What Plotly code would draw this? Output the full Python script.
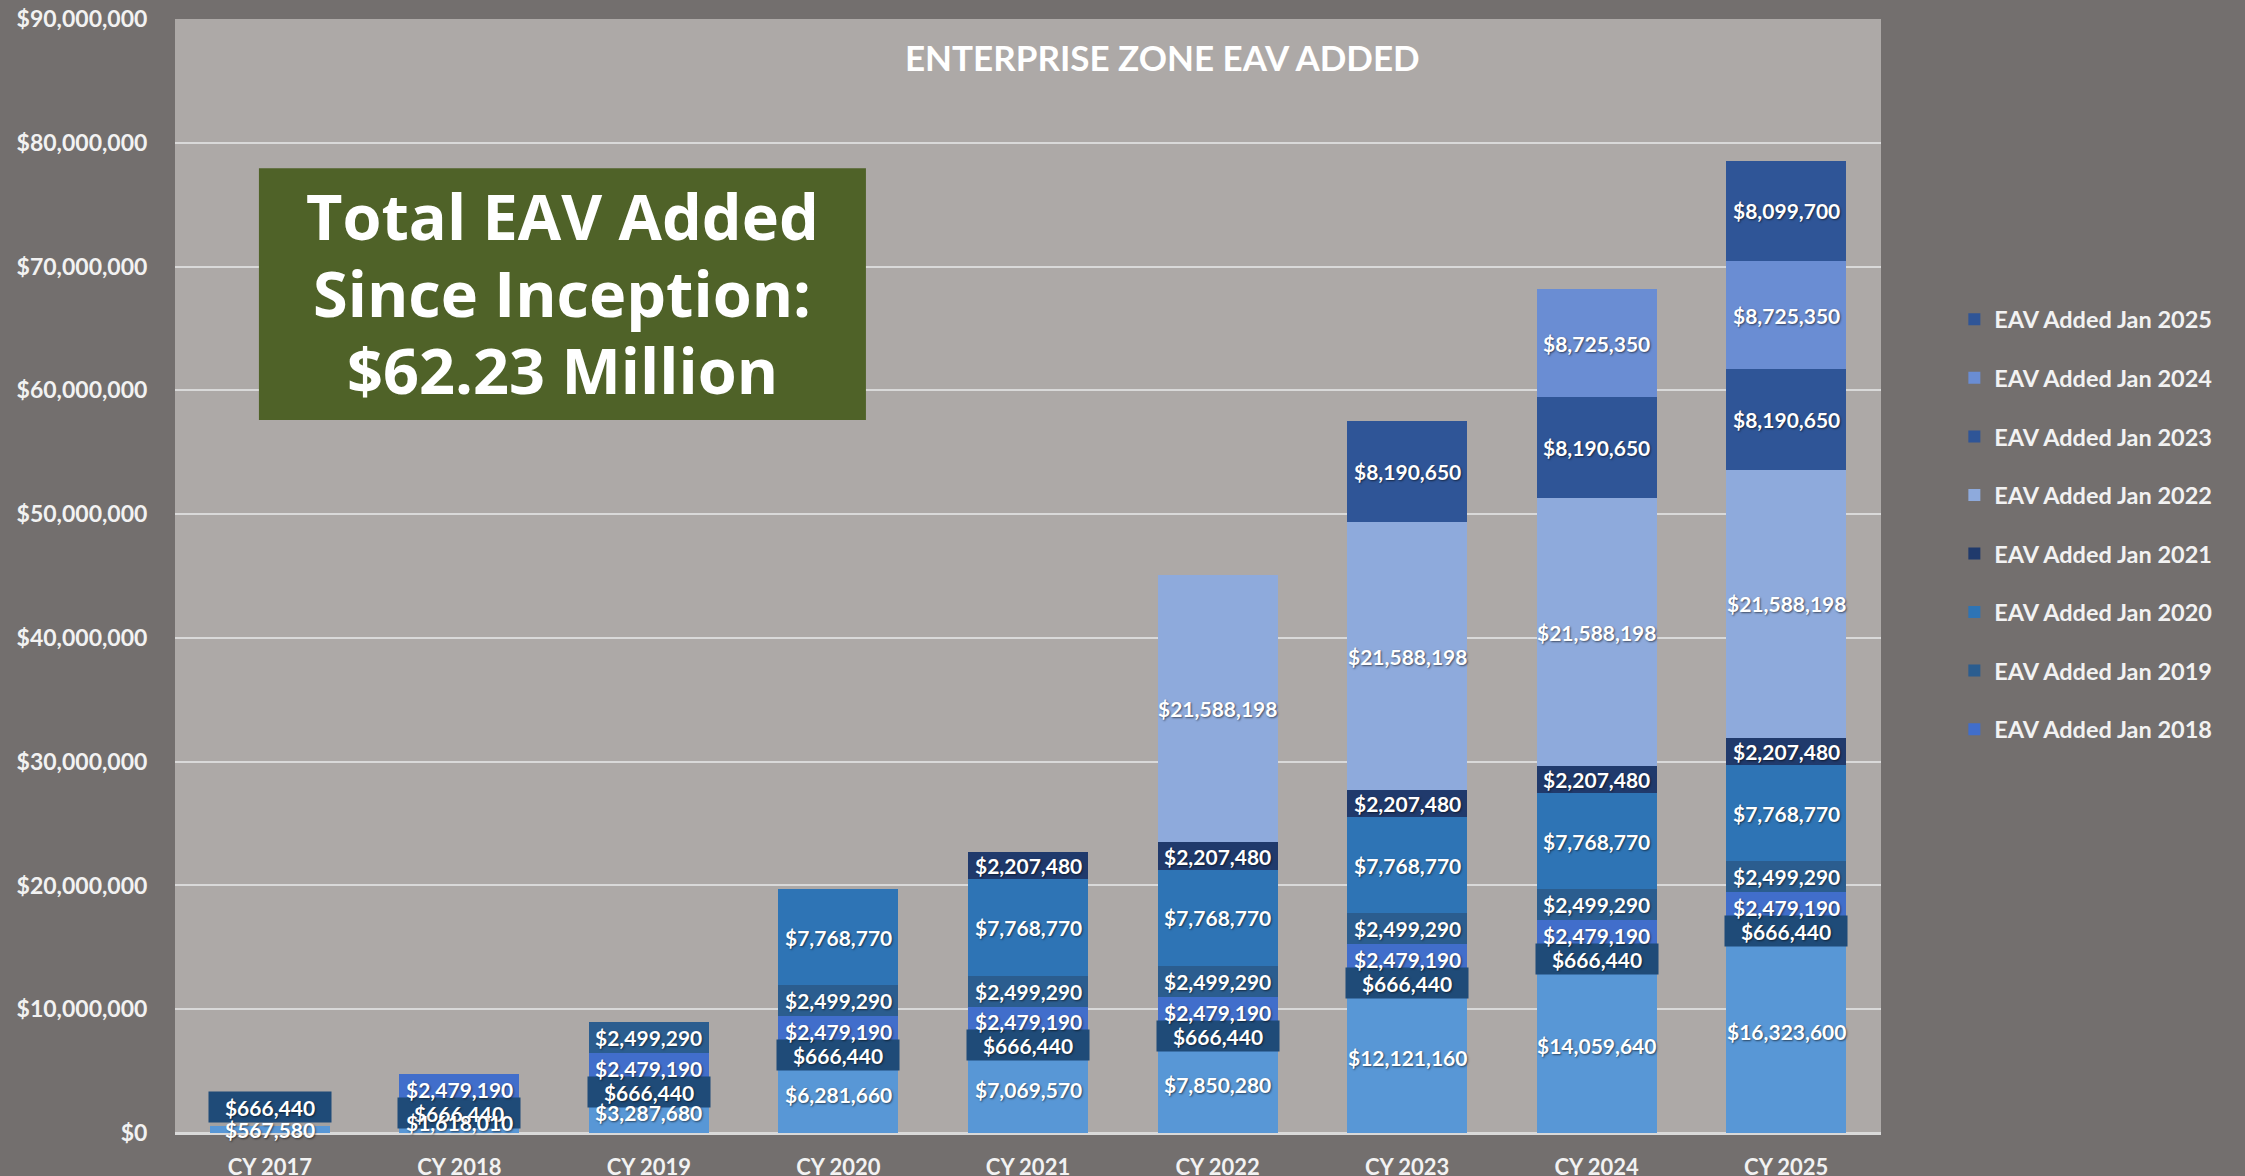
import plotly.graph_objects as go

# ---------------- data ----------------
years = ["CY 2017", "CY 2018", "CY 2019", "CY 2020", "CY 2021",
         "CY 2022", "CY 2023", "CY 2024", "CY 2025"]

base_eav = [567580, 1618010, 3287680, 6281660, 7069570, 7850280, 12121160, 14059640, 16323600]
eav_jan_2017 = [666440, 666440, 666440, 666440, 666440, 666440, 666440, 666440, 666440]
eav_jan_2018 = [None, 2479190, 2479190, 2479190, 2479190, 2479190, 2479190, 2479190, 2479190]
eav_jan_2019 = [None, None, 2499290, 2499290, 2499290, 2499290, 2499290, 2499290, 2499290]
eav_jan_2020 = [None, None, None, 7768770, 7768770, 7768770, 7768770, 7768770, 7768770]
eav_jan_2021 = [None, None, None, None, 2207480, 2207480, 2207480, 2207480, 2207480]
eav_jan_2022 = [None, None, None, None, None, 21588198, 21588198, 21588198, 21588198]
eav_jan_2023 = [None, None, None, None, None, None, 8190650, 8190650, 8190650]
eav_jan_2024 = [None, None, None, None, None, None, None, 8725350, 8725350]
eav_jan_2025 = [None, None, None, None, None, None, None, None, 8099700]

y_tick_values = [0, 10e6, 20e6, 30e6, 40e6, 50e6, 60e6, 70e6, 80e6, 90e6]
chart_title = "ENTERPRISE ZONE EAV ADDED"
callout_lines = ["Total EAV Added", "Since Inception:", "$62.23 Million"]

NAVY17 = "#1F4B78"
# series: (name, values, colour, in legend, boxed label)
series = [
    ("Base EAV", base_eav, "#5897D6", False, False),
    ("EAV Added Jan 2017", eav_jan_2017, ["#A3A1A0"] + [NAVY17] * 8, False, True),
    ("EAV Added Jan 2018", eav_jan_2018, "#416ECB", True, False),
    ("EAV Added Jan 2019", eav_jan_2019, "#2B5D8F", True, False),
    ("EAV Added Jan 2020", eav_jan_2020, "#2E74B5", True, False),
    ("EAV Added Jan 2021", eav_jan_2021, "#203A6C", True, False),
    ("EAV Added Jan 2022", eav_jan_2022, "#8EAADC", True, False),
    ("EAV Added Jan 2023", eav_jan_2023, "#2F5597", True, False),
    ("EAV Added Jan 2024", eav_jan_2024, "#6A8DD3", True, False),
    ("EAV Added Jan 2025", eav_jan_2025, "#2F5597", True, False),
]

PAPER = "#736F6E"
PLOT_BG = "#ADA9A7"
GRID = "#D9D9D9"
TXT = "#F2F2F2"
FONT = "Lato, 'Open Sans', sans-serif"
SHADOW = "1px 1px 2px rgba(0,0,0,0.55)"

fig = go.Figure()
for si, (name, vals, col, inleg, _) in enumerate(series):
    fig.add_trace(go.Bar(
        x=years, y=vals, name=name, marker=dict(color=col, line=dict(width=0)),
        showlegend=inleg, legendgroup=name, legendrank=100 - si,
    ))

# data labels centred in each segment; boxed labels drawn first
cum = {}
labels = []
for si, (name, vals, col, inleg, boxed) in enumerate(series):
    for xi, v in enumerate(vals):
        if v is None:
            continue
        b = cum.get(xi, 0)
        labels.append((si, xi, b + v / 2, v, boxed))
        cum[xi] = b + v

nudge = {(1, 0): 15}  # label lifted above the first (tiny) bar
for si, xi, yc, v, boxed in sorted(labels, key=lambda t: (not t[4], -t[0])):
    fig.add_annotation(
        x=years[xi], y=yc, xref="x", yref="y", text="$" + f"{v:,}",
        showarrow=False, yshift=nudge.get((si, xi), -4 if boxed else 0),
        font=dict(family=FONT, size=21, color="#FFFFFF", weight="bold", shadow=SHADOW),
        bgcolor=NAVY17 if boxed else "rgba(0,0,0,0)",
        width=118 if boxed else None, height=26 if boxed else None, borderpad=2,
    )

# title
fig.add_annotation(x=0.579, y=0.9655, xref="paper", yref="paper", text=chart_title,
                   showarrow=False, xanchor="center", yanchor="middle",
                   font=dict(family=FONT, size=35, color="#FFFFFF", weight="bold"))

# callout box
fig.add_shape(type="rect", xref="paper", yref="paper", x0=0.0492, x1=0.405, y0=0.640, y1=0.866,
              fillcolor="#4F6228", line=dict(width=0), layer="above")
for i, line in enumerate(callout_lines):
    fig.add_annotation(x=0.227, y=0.8237 - i * 0.0691, xref="paper", yref="paper", text=line,
                       showarrow=False, xanchor="center", yanchor="middle",
                       font=dict(family="'Open Sans', sans-serif", size=63, color="#FFFFFF",
                                 weight="bold"))

fig.update_layout(
    width=2245, height=1176,
    barmode="stack", bargap=0.367,
    paper_bgcolor=PAPER, plot_bgcolor=PLOT_BG,
    margin=dict(l=175, r=364, t=19, b=43, autoexpand=False),
    font=dict(family=FONT, color=TXT),
    legend=dict(x=1.043, y=0.750, xanchor="left", yanchor="top",
                traceorder="grouped", tracegroupgap=25,
                font=dict(family=FONT, size=23.5, color=TXT, weight="bold"),
                bgcolor="rgba(0,0,0,0)"),
    showlegend=True,
)
fig.update_xaxes(showgrid=False, showline=False, ticks="outside", ticklen=15,
                 tickcolor="rgba(0,0,0,0)", automargin=False,
                 tickfont=dict(family=FONT, size=22, color=TXT, weight="bold"),
                 range=[-0.5, 8.5])
fig.update_yaxes(range=[0, 90e6], tickvals=y_tick_values, tickformat="$,.0f",
                 showgrid=True, gridcolor=GRID, gridwidth=2, automargin=False,
                 zeroline=True, zerolinecolor=GRID, zerolinewidth=3,
                 ticks="outside", ticklen=22, tickcolor="rgba(0,0,0,0)",
                 tickfont=dict(family=FONT, size=23, color=TXT, weight="bold"))

fig.write_html("out.html", config={"displayModeBar": False},
               post_script="document.body.style.margin='0';document.body.style.overflow='hidden';")
